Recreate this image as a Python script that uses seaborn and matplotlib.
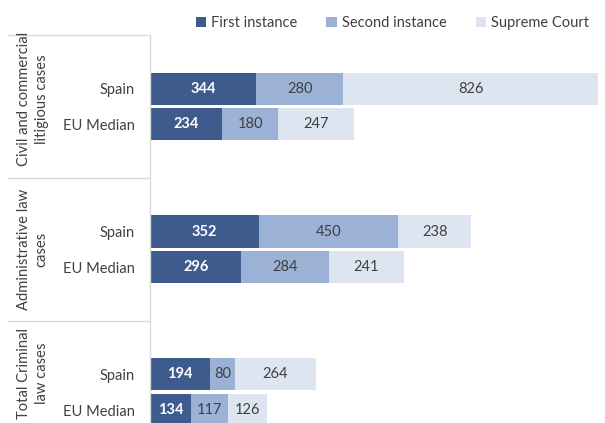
import numpy as np
import pandas as pd
import matplotlib
matplotlib.use("Agg")
import matplotlib.pyplot as plt
from matplotlib.patches import Patch
import seaborn as sns

# data
groups = ["Civil and commercial\nlitigious cases", "Administrative law\ncases", "Total Criminal\nlaw cases"]
countries = ["Spain", "EU Median"]
first_instance = [344, 234, 352, 296, 194, 134]
second_instance = [280, 180, 450, 284, 80, 117]
supreme_court = [826, 247, 238, 241, 264, 126]
series_names = ["First instance", "Second instance", "Supreme Court"]
colors = ["#3d5b8c", "#9bb1d5", "#dde5f1"]

# rows: each group gets Spain / EU Median, then two empty rows as gap
row_ids = []
order = []
for gi in range(len(groups)):
    for c in countries:
        row_ids.append(f"g{gi}_{c}")
        order.append(f"g{gi}_{c}")
    if gi < len(groups) - 1:
        order += [f"gap{gi}a", f"gap{gi}b"]

df = pd.DataFrame({
    "row": row_ids,
    "first": first_instance,
    "second": second_instance,
    "supreme": supreme_court,
})
df["c1"] = df["first"]
df["c2"] = df["first"] + df["second"]
df["c3"] = df["c2"] + df["supreme"]

sns.set_style("white")
plt.rcParams["font.family"] = ["Lato", "DejaVu Sans"]

fig = plt.figure(figsize=(6.05, 4.23), dpi=100)
ax = fig.add_axes([150 / 605, 0, 455 / 605, 388 / 423])

for col, color in zip(["c3", "c2", "c1"], colors[::-1]):
    sns.barplot(data=df, y="row", x=col, order=order, color=color,
                saturation=1, width=0.9, orient="h", ax=ax, linewidth=0)

ax.set_xlim(0, 1472)
ax.set_ylim(9.36, -1.5)

# value labels
for _, r in df.iterrows():
    y = order.index(r["row"])
    ax.text(r["first"] / 2, y, str(r["first"]), ha="center", va="center",
            color="white", fontsize=10.5, fontweight="bold")
    ax.text(r["c1"] + r["second"] / 2, y, str(r["second"]), ha="center",
            va="center", color="#404040", fontsize=10.5)
    ax.text(r["c2"] + r["supreme"] / 2, y, str(r["supreme"]), ha="center",
            va="center", color="#404040", fontsize=10.5)

# y tick labels
ticks = [order.index(r) for r in row_ids]
ax.set_yticks(ticks)
ax.set_yticklabels([r.split("_")[1] for r in row_ids], fontsize=10.5, color="#404040")
ax.tick_params(axis="y", length=0, pad=11)
ax.set_xticks([])
ax.set_xlabel("")
ax.set_ylabel("")
for s in ["top", "right", "bottom"]:
    ax.spines[s].set_visible(False)
ax.spines["left"].set_color("#d9d9d9")
ax.spines["left"].set_linewidth(1)

# group separators and group labels
trans = ax.get_yaxis_transform()
x0 = -142 / 455
for yline in [-1.5, 2.5, 6.5]:
    ax.plot([x0, 0], [yline, yline], transform=trans, color="#d9d9d9",
            lw=1, clip_on=False)
label_y = [0.3, 4.5, 7.97]
for g, yl in zip(groups, label_y):
    ax.text(-117 / 455, yl, g, transform=trans, rotation=90, ha="center",
            va="center", multialignment="center", fontsize=10.6,
            color="#404040", linespacing=1.3)

# legend
handles = [Patch(facecolor=c, edgecolor="none", label=n) for c, n in zip(colors, series_names)]
fig.legend(handles=handles, loc="upper right", bbox_to_anchor=(1.0, 1.0), ncol=3,
           frameon=False, fontsize=10.5, handlelength=0.7, handleheight=0.7,
           handletextpad=0.35, columnspacing=2.0, labelcolor="#404040",
           borderaxespad=0.7)

fig.savefig("out.png", dpi=100)
